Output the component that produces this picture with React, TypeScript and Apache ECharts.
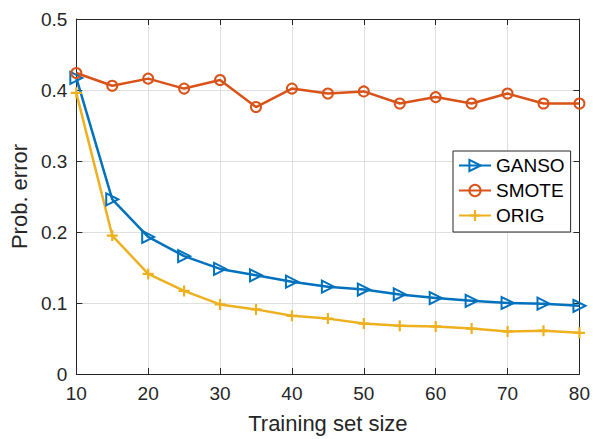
import React, { useEffect, useRef } from "react";
import * as echarts from "echarts";

const trainingSizes = [10, 15, 20, 25, 30, 35, 40, 45, 50, 55, 60, 65, 70, 75, 80];
const gansoError = [0.417, 0.246, 0.193, 0.166, 0.148, 0.139, 0.130, 0.123, 0.119, 0.112, 0.107, 0.103, 0.100, 0.099, 0.096];
const smoteError = [0.424, 0.406, 0.416, 0.402, 0.414, 0.376, 0.402, 0.395, 0.398, 0.381, 0.390, 0.381, 0.395, 0.381, 0.381];
const origError = [0.396, 0.195, 0.141, 0.117, 0.098, 0.091, 0.082, 0.078, 0.071, 0.068, 0.067, 0.064, 0.060, 0.061, 0.058];
const seriesNames = ["GANSO", "SMOTE", "ORIG"];

const FONT = "'Liberation Sans', Arial, Helvetica, sans-serif";
const AXIS_COLOR = "#262626";
const GRID_COLOR = "#dfdfdf";

export default function App() {
  const ref = useRef<HTMLDivElement>(null);
  useEffect(() => {
    if (!ref.current) return;
    const chart = echarts.init(ref.current, undefined, { renderer: "svg" });
    const pair = (ys: number[]) => trainingSizes.map((x, i) => [x, ys[i]]);
    const baseX = {
      type: "value" as const,
      min: 10,
      max: 80,
      interval: 10,
    };
    const baseY = {
      type: "value" as const,
      min: 0,
      max: 0.5,
      interval: 0.1,
    };
    chart.setOption({
      animation: false,
      backgroundColor: "#ffffff",
      textStyle: { fontFamily: FONT },
      grid: { left: 73, top: 19, width: 510, height: 357, containLabel: false },
      legend: {
        data: seriesNames,
        orient: "vertical",
        left: 453,
        top: 151,
        itemWidth: 32,
        itemHeight: 14,
        itemGap: 6,
        padding: [5, 6, 7, 5],
        borderColor: "#262626",
        borderWidth: 1,
        backgroundColor: "#ffffff",
        textStyle: { fontFamily: FONT, fontSize: 19, color: "#000" },
      },
      xAxis: [
        {
          ...baseX,
          position: "bottom",
          name: "Training set size",
          nameLocation: "middle",
          nameGap: 38,
          nameTextStyle: { fontFamily: FONT, fontSize: 22, color: AXIS_COLOR },
          axisLine: { show: true, onZero: false, lineStyle: { color: AXIS_COLOR, width: 1 } },
          axisTick: { show: true, inside: true, length: 6, lineStyle: { color: AXIS_COLOR } },
          axisLabel: { fontFamily: FONT, fontSize: 19, color: AXIS_COLOR, margin: 10 },
          splitLine: { show: true, lineStyle: { color: GRID_COLOR, width: 1 } },
        },
        {
          ...baseX,
          position: "top",
          axisLine: { show: true, onZero: false, lineStyle: { color: AXIS_COLOR, width: 1 } },
          axisTick: { show: true, inside: true, length: 6, lineStyle: { color: AXIS_COLOR } },
          axisLabel: { show: false },
          splitLine: { show: false },
        },
      ],
      yAxis: [
        {
          ...baseY,
          position: "left",
          name: "Prob. error",
          nameLocation: "middle",
          nameGap: 40,
          nameTextStyle: { fontFamily: FONT, fontSize: 22, color: AXIS_COLOR },
          axisLine: { show: true, onZero: false, lineStyle: { color: AXIS_COLOR, width: 1 } },
          axisTick: { show: true, inside: true, length: 6, lineStyle: { color: AXIS_COLOR } },
          axisLabel: { fontFamily: FONT, fontSize: 19, color: AXIS_COLOR, margin: 9 },
          splitLine: { show: true, lineStyle: { color: GRID_COLOR, width: 1 } },
        },
        {
          ...baseY,
          position: "right",
          axisLine: { show: true, onZero: false, lineStyle: { color: AXIS_COLOR, width: 1 } },
          axisTick: { show: true, inside: true, length: 6, lineStyle: { color: AXIS_COLOR } },
          axisLabel: { show: false },
          splitLine: { show: false },
        },
      ],
      series: [
        {
          name: "GANSO",
          type: "line",
          data: pair(gansoError),
          symbol: "triangle",
          symbolRotate: -90,
          symbolSize: 12,
          showAllSymbol: true,
          lineStyle: { color: "#0072BD", width: 2.5 },
          itemStyle: { color: "rgba(255,255,255,0)", borderColor: "#0072BD", borderWidth: 2 },
        },
        {
          name: "SMOTE",
          type: "line",
          data: pair(smoteError),
          symbol: "circle",
          symbolSize: 10,
          showAllSymbol: true,
          lineStyle: { color: "#D95319", width: 2.5 },
          itemStyle: { color: "rgba(255,255,255,0)", borderColor: "#D95319", borderWidth: 2 },
        },
        {
          name: "ORIG",
          type: "line",
          data: pair(origError),
          symbol: "path://M4,0H6V4H10V6H6V10H4V6H0V4H4Z",
          symbolSize: 11,
          showAllSymbol: true,
          lineStyle: { color: "#EDB120", width: 2.5 },
          itemStyle: { color: "#EDB120", borderWidth: 0 },
        },
      ],
    });
    return () => chart.dispose();
  }, []);
  return (
    <div
      ref={ref}
      style={{ position: "fixed", left: 0, top: 0, width: 593, height: 439, background: "#fff" }}
    />
  );
}
